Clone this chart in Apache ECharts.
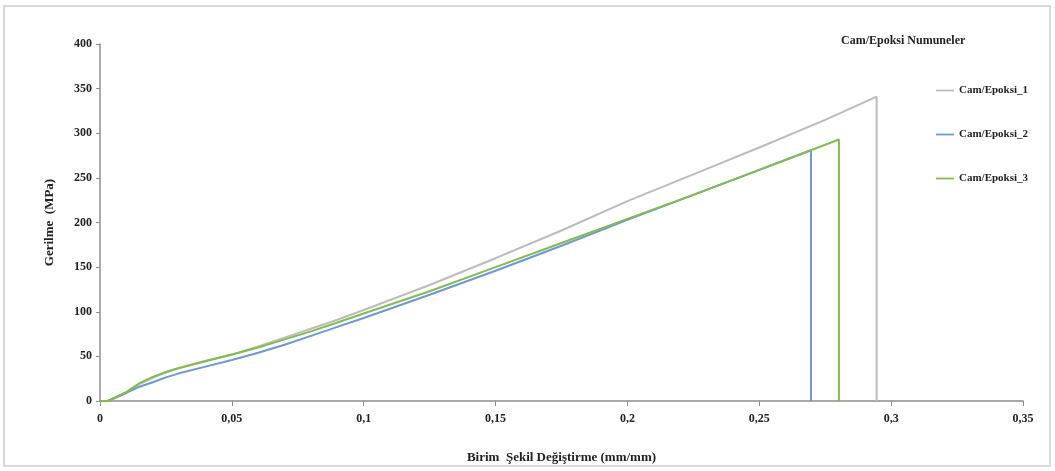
<!DOCTYPE html>
<html><head><meta charset="utf-8">
<script src="https://cdn.jsdelivr.net/npm/echarts@6/dist/echarts.min.js"></script>
<style>html,body{margin:0;padding:0;background:#fff}#c{width:1055px;height:471px}</style>
</head><body><div id="c"></div>
<script>
const seriesNames = ['Cam/Epoksi_1', 'Cam/Epoksi_2', 'Cam/Epoksi_3'];
const xTicks = [0, 0.05, 0.1, 0.15, 0.2, 0.25, 0.3, 0.35];
const yTicks = [0, 50, 100, 150, 200, 250, 300, 350, 400];

const strain1 = [0, 0.003, 0.01, 0.015, 0.02, 0.025, 0.03, 0.04, 0.05, 0.06, 0.07, 0.08, 0.09, 0.1, 0.125, 0.15, 0.175, 0.2, 0.225, 0.25, 0.275, 0.2945, 0.2945];
const stress1 = [0, 0, 10, 19, 26, 32, 37, 45, 52, 61, 71, 81, 91, 102, 130, 160, 191, 224, 254, 284, 315, 341, 0];

const strain2 = [0, 0.003, 0.01, 0.015, 0.02, 0.025, 0.03, 0.04, 0.05, 0.06, 0.07, 0.08, 0.09, 0.1, 0.125, 0.15, 0.175, 0.2, 0.225, 0.25, 0.2696, 0.2696];
const stress2 = [0, 0, 9, 16, 21, 26.5, 31, 38.5, 46, 54, 63, 73, 83, 93, 119, 146, 174, 203, 231, 259, 281, 0];

const strain3 = [0, 0.003, 0.01, 0.015, 0.02, 0.025, 0.03, 0.04, 0.05, 0.06, 0.07, 0.08, 0.09, 0.1, 0.125, 0.15, 0.175, 0.2, 0.225, 0.25, 0.2802, 0.2802];
const stress3 = [0, 0, 10, 20, 27, 32.5, 37, 44.5, 52, 60, 69, 78, 88, 98, 123, 150, 177, 204, 231, 259, 293, 0];

const colors = ['#bcbcbc', '#6f97d3', '#82bb4e'];
const pair = (xs, ys) => xs.map((x, i) => [x, ys[i]]);
const font = 'Liberation Serif';

const chart = echarts.init(document.getElementById('c'));
chart.setOption({
  animation: false,
  graphic: [{type: 'rect', shape: {x: 4, y: 6, width: 1046, height: 460}, style: {fill: 'none', stroke: '#d9d9d9', lineWidth: 2}}],
  title: {text: 'Cam/Epoksi Numuneler', left: 836, top: 30,
    textStyle: {fontFamily: font, fontWeight: 'bold', fontSize: 12, color: '#222'}},
  legend: {orient: 'vertical', left: 931, top: 80, itemGap: 33, itemWidth: 18, itemHeight: 10,
    icon: 'path://M0,4 L20,4 L20,6 L0,6 Z',
    data: seriesNames,
    textStyle: {fontFamily: font, fontWeight: 'bold', fontSize: 11, color: '#222'}},
  grid: {left: 100, right: 32, top: 44, bottom: 70},
  xAxis: {type: 'value', min: 0, max: 0.35, interval: 0.05,
    name: 'Birim  Şekil Değiştirme (mm/mm)', nameLocation: 'middle', nameGap: 50,
    nameTextStyle: {fontFamily: font, fontWeight: 'bold', fontSize: 13, color: '#222'},
    axisLine: {lineStyle: {color: '#8c8c8c', width: 1.5}},
    axisTick: {show: true, length: 5, lineStyle: {color: '#8c8c8c'}},
    splitLine: {show: false},
    axisLabel: {fontFamily: font, fontWeight: 'bold', fontSize: 12, color: '#222', margin: 12,
      formatter: v => { const t = xTicks.find(k => Math.abs(k - v) < 1e-9); return t === undefined ? '' : String(t).replace('.', ','); }}},
  yAxis: {type: 'value', min: 0, max: 400, interval: 50,
    name: 'Gerilme  (MPa)', nameLocation: 'middle', nameGap: 44,
    nameTextStyle: {fontFamily: font, fontWeight: 'bold', fontSize: 13, color: '#222'},
    axisLine: {show: true, lineStyle: {color: '#8c8c8c', width: 1.5}},
    axisTick: {show: true, length: 4, lineStyle: {color: '#8c8c8c'}},
    splitLine: {show: false},
    axisLabel: {fontFamily: font, fontWeight: 'bold', fontSize: 12, color: '#222', margin: 8,
      formatter: v => yTicks.includes(v) ? String(v) : ''}},
  series: [
    {name: seriesNames[0], type: 'line', data: pair(strain1, stress1), showSymbol: false, color: colors[0], lineStyle: {width: 2}},
    {name: seriesNames[1], type: 'line', data: pair(strain2, stress2), showSymbol: false, color: colors[1], lineStyle: {width: 2}},
    {name: seriesNames[2], type: 'line', data: pair(strain3, stress3), showSymbol: false, color: colors[2], lineStyle: {width: 2}}
  ]
});
</script></body></html>
